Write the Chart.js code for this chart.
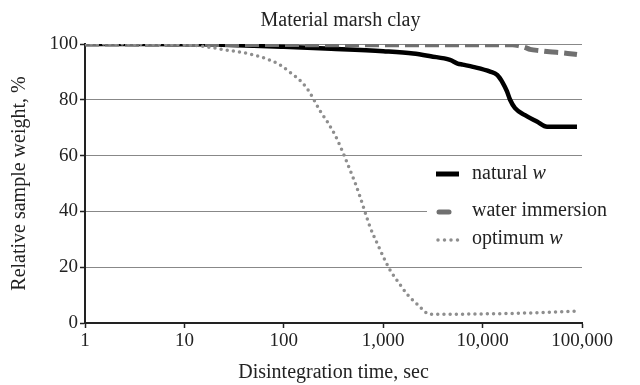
<!DOCTYPE html>
<html>
<head>
<meta charset="utf-8">
<script src="https://cdn.jsdelivr.net/npm/chart.js@4.4.1/dist/chart.umd.min.js"></script>
<style>
  html, body { margin: 0; padding: 0; background: #fff; }
  #myChart { display: block; }
</style>
</head>
<body>
<canvas id="myChart" width="640" height="385"></canvas>
<script>
const ctx = document.getElementById('myChart');

const serif = '"Liberation Serif", "Times New Roman", serif';

// time in seconds, weight in % of the initial sample
const naturalTime = [1, 5, 10, 20, 50, 100, 300, 1000, 2000, 3000, 4700, 5600, 6300, 8000, 11900, 14000, 16000, 17600, 18900, 21200, 26700, 35200, 44500, 89000];
const naturalWeight = [100, 100, 99.9, 99.8, 99.4, 99.0, 98.3, 97.4, 96.6, 95.6, 94.3, 93.0, 92.6, 91.8, 90.1, 88.9, 86.0, 83.0, 80.0, 77.0, 74.5, 72.2, 70.3, 70.3];

const waterTime = [1, 10, 100, 1000, 10000, 20000, 23000, 27000, 30000, 37800, 47000, 66000, 89000];
const waterWeight = [100, 99.9, 99.8, 99.7, 99.7, 99.7, 99.4, 98.7, 98.1, 97.6, 97.2, 96.8, 96.2];

const optimumTime = [1, 5, 10, 14.4, 26.8, 45.7, 69.4, 91.6, 115, 146, 175, 201, 231, 279, 327, 368, 413, 463, 520, 584, 656, 736, 866, 995, 1170, 1408, 1776, 2240, 2957, 7470, 23800, 50000, 89000];
const optimumWeight = [100, 99.9, 99.7, 99.3, 97.8, 96.4, 94.5, 92.5, 89.9, 86.9, 83.6, 80.0, 76.1, 71.7, 67.4, 63.5, 59.3, 54.9, 50.4, 45.3, 39.8, 34.5, 28.7, 24.0, 19.0, 14.8, 10.0, 6.5, 3.1, 3.2, 3.5, 3.9, 4.3];

const xTicks = [1, 10, 100, 1000, 10000, 100000];
const yTicks = [0, 20, 40, 60, 80, 100];

const chartTitle = 'Material marsh clay';
const legendItems = [
  { text: 'natural ', italic: 'w', style: 'solid' },
  { text: 'water immersion', italic: '', style: 'dash' },
  { text: 'optimum ', italic: 'w', style: 'dots' }
];

function points(xs, ys) {
  return xs.map((x, i) => ({ x: x, y: ys[i] }));
}

// title and legend drawn by hand so the "w" can be italic
const decorations = {
  id: 'decorations',
  afterDatasetsDraw(chart) {
    const c = chart.ctx;
    const area = chart.chartArea;
    c.save();
    c.setLineDash([]);
    c.fillStyle = '#222';
    c.textAlign = 'center';
    c.textBaseline = 'middle';
    c.font = '20px ' + serif;
    c.fillText(chartTitle, (area.left + area.right) / 2 + 7, 21);

    c.fillStyle = '#fff';
    c.fillRect(427, 162, area.right - 427, 96);

    const rows = [174, 211, 239];
    legendItems.forEach((item, i) => {
      const y = rows[i];
      c.beginPath();
      c.setLineDash([]);
      if (item.style === 'solid') {
        c.strokeStyle = '#000';
        c.lineWidth = 5;
        c.lineCap = 'butt';
        c.moveTo(436, y); c.lineTo(459, y);
      } else if (item.style === 'dash') {
        c.strokeStyle = '#707070';
        c.lineWidth = 5;
        c.lineCap = 'round';
        c.moveTo(439, y + 1); c.lineTo(449, y + 1);
      } else {
        c.strokeStyle = '#8e8e8e';
        c.lineWidth = 3.5;
        c.lineCap = 'round';
        c.setLineDash([0, 6.5]);
        c.moveTo(438, y + 1); c.lineTo(459, y + 1);
      }
      c.stroke();
      c.setLineDash([]);

      c.fillStyle = '#222';
      c.textAlign = 'left';
      c.font = '20px ' + serif;
      c.fillText(item.text, 472, y);
      if (item.italic) {
        const w = c.measureText(item.text).width;
        c.font = 'italic 20px ' + serif;
        c.fillText(item.italic, 472 + w, y);
      }
    });
    c.restore();
  }
};

const myChart = new Chart(ctx, {
  type: 'line',
  data: {
    datasets: [{
      label: 'natural w',
      data: points(naturalTime, naturalWeight),
      borderColor: '#000',
      borderWidth: 4.5,
      cubicInterpolationMode: 'monotone',
      pointRadius: 0,
      order: 3
    }, {
      label: 'water immersion',
      data: points(waterTime, waterWeight),
      borderColor: '#707070',
      borderWidth: 5,
      borderDash: [14, 6],
      cubicInterpolationMode: 'monotone',
      pointRadius: 0,
      order: 2
    }, {
      label: 'optimum w',
      data: points(optimumTime, optimumWeight),
      borderColor: '#8e8e8e',
      borderWidth: 3.5,
      borderDash: [0, 6.2],
      borderCapStyle: 'round',
      cubicInterpolationMode: 'monotone',
      pointRadius: 0,
      order: 1
    }]
  },
  options: {
    responsive: false,
    animation: false,
    devicePixelRatio: 1,
    layout: {
      padding: { top: 44, right: 58, left: 0, bottom: 0 }
    },
    plugins: {
      legend: { display: false },
      title: { display: false },
      tooltip: { enabled: false }
    },
    scales: {
      x: {
        type: 'logarithmic',
        min: 1,
        max: 100000,
        afterBuildTicks: axis => {
          axis.ticks = xTicks.map(v => ({ value: v }));
        },
        afterFit: scale => { scale.height = 62; },
        ticks: {
          color: '#222',
          font: { family: serif, size: 19 },
          padding: 2,
          maxRotation: 0,
          autoSkip: false,
          callback: v => Number(v).toLocaleString('en-US')
        },
        grid: {
          drawOnChartArea: false,
          tickLength: 5,
          tickColor: '#222',
          tickWidth: 1.5
        },
        border: { color: '#222', width: 2 },
        title: {
          display: true,
          text: 'Disintegration time, sec',
          color: '#222',
          font: { family: serif, size: 20 },
          padding: { top: 0, bottom: 0 }
        }
      },
      y: {
        min: 0,
        max: 100,
        afterBuildTicks: axis => {
          axis.ticks = yTicks.map(v => ({ value: v }));
        },
        afterFit: scale => { scale.width = 85; },
        ticks: {
          color: '#222',
          font: { family: serif, size: 19 },
          padding: 2
        },
        grid: {
          color: '#888',
          lineWidth: 1,
          tickLength: 5,
          tickColor: '#222',
          tickWidth: 1.5
        },
        border: { color: '#222', width: 2 },
        title: {
          display: true,
          text: 'Relative sample weight, %',
          color: '#222',
          font: { family: serif, size: 20 },
          padding: { top: 8, bottom: 0 }
        }
      }
    }
  },
  plugins: [decorations]
});
</script>
</body>
</html>
